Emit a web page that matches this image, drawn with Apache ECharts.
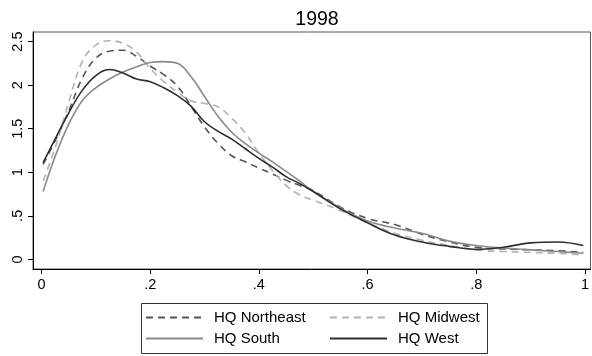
<!DOCTYPE html>
<html>
<head>
<meta charset="utf-8">
<script src="https://cdn.jsdelivr.net/npm/echarts@6/dist/echarts.min.js"></script>
<style>
  html, body { margin: 0; padding: 0; background: #fff; }
  #chart { width: 592px; height: 356px; }
</style>
</head>
<body>
<div id="chart"></div>
<script>
const titleText = '1998'
const xTicks = [0, 0.2, 0.4, 0.6, 0.8, 1]
const yTicks = [0, 0.5, 1, 1.5, 2, 2.5]

const xs = [0.003, 0.025, 0.05, 0.075, 0.1, 0.125, 0.15, 0.175, 0.2, 0.225, 0.25, 0.275, 0.3, 0.325, 0.35, 0.375,
  0.4, 0.425, 0.45, 0.475, 0.5, 0.55, 0.6, 0.65, 0.7, 0.75, 0.8, 0.85, 0.9, 0.95, 0.997]

const northeast = [1.09, 1.36, 1.70, 2.08, 2.31, 2.39, 2.40, 2.33, 2.22, 2.12, 1.99, 1.76, 1.52, 1.33, 1.19, 1.12,
  1.05, 0.98, 0.91, 0.85, 0.79, 0.60, 0.47, 0.40, 0.29, 0.20, 0.14, 0.12, 0.11, 0.10, 0.08]
const midwest = [0.90, 1.28, 1.80, 2.27, 2.46, 2.51, 2.48, 2.38, 2.19, 2.04, 1.92, 1.82, 1.79, 1.75, 1.62, 1.45,
  1.22, 1.02, 0.85, 0.74, 0.68, 0.56, 0.42, 0.30, 0.22, 0.16, 0.11, 0.09, 0.08, 0.07, 0.05]
const south = [0.78, 1.18, 1.55, 1.82, 1.97, 2.07, 2.15, 2.21, 2.26, 2.27, 2.25, 2.10, 1.87, 1.64, 1.46, 1.33,
  1.22, 1.12, 1.01, 0.90, 0.78, 0.59, 0.44, 0.36, 0.30, 0.21, 0.16, 0.13, 0.11, 0.09, 0.07]
const west = [1.11, 1.38, 1.68, 1.94, 2.11, 2.18, 2.14, 2.07, 2.04, 1.97, 1.88, 1.76, 1.58, 1.47, 1.38, 1.27,
  1.16, 1.06, 0.95, 0.87, 0.78, 0.58, 0.42, 0.28, 0.20, 0.15, 0.115, 0.14, 0.19, 0.20, 0.16]

const seriesDefs = [
  { name: 'HQ Northeast', data: northeast, color: '#555555', dash: [7, 5] },
  { name: 'HQ Midwest', data: midwest, color: '#b2b2b2', dash: [7, 5] },
  { name: 'HQ South', data: south, color: '#8a8a8a', dash: 'solid' },
  { name: 'HQ West', data: west, color: '#2e2e2e', dash: 'solid' },
]

const font = 'Liberation Sans, Arial, Helvetica, sans-serif'

const tickFmt = (v) => {
  if (v === 0) return '0'
  let s = String(Math.round(v * 10) / 10)
  if (s.startsWith('0.')) s = s.slice(1)
  return s
}

const chart = echarts.init(document.getElementById('chart'), null, { renderer: 'canvas' })

const option = {
  animation: false,
  backgroundColor: '#fff',
  title: {
    text: titleText,
    left: 312,
    top: 5,
    textAlign: 'center',
    textStyle: { fontFamily: font, fontWeight: 'normal', fontSize: 19.5, color: '#000' },
  },
  grid: {
    left: 33, right: -2, top: 32, bottom: 87,
    show: true, borderColor: '#555', borderWidth: 1,
  },
  xAxis: {
    type: 'value',
    min: -0.0156,
    max: 1.0101,
    axisLine: { show: true, onZero: false, lineStyle: { color: '#000', width: 1 } },
    axisTick: { show: true, length: 5, lineStyle: { color: '#000' }, customValues: xTicks },
    axisLabel: {
      customValues: xTicks, formatter: tickFmt, margin: 8,
      fontFamily: font, fontSize: 14.5, color: '#000',
    },
    splitLine: { show: false },
  },
  yAxis: {
    type: 'value',
    min: -0.11,
    max: 2.61,
    axisLine: { show: true, onZero: false, lineStyle: { color: '#000', width: 1 } },
    axisTick: { show: true, length: 5, lineStyle: { color: '#000' }, customValues: yTicks },
    axisLabel: {
      customValues: yTicks, formatter: tickFmt, rotate: 90, margin: 8,
      fontFamily: font, fontSize: 14.5, color: '#000',
    },
    splitLine: { show: false },
  },
  legend: {
    data: ['HQ Northeast', 'HQ Midwest', 'HQ South', 'HQ West'],
    orient: 'horizontal',
    left: 145, top: 309, width: 380,
    padding: 0,
    itemWidth: 57, itemHeight: 14, itemGap: 4,
    itemStyle: { opacity: 0 },
    textStyle: {
      fontFamily: font, fontSize: 15, color: '#000', lineHeight: 17,
      width: 111, padding: [0, 0, 0, 6],
    },
  },
  graphic: [
    {
      type: 'rect',
      shape: { x: 141.5, y: 303.5, width: 346, height: 50 },
      style: { fill: 'none', stroke: '#333', lineWidth: 1 },
    },
  ],
  series: seriesDefs.map((s) => ({
    name: s.name,
    type: 'line',
    smooth: 0.4,
    symbol: 'none',
    data: xs.map((x, i) => [x, s.data[i]]),
    lineStyle: { color: s.color, width: 1.6, type: s.dash },
    itemStyle: { color: s.color },
  })),
}

chart.setOption(option)
</script>
</body>
</html>
